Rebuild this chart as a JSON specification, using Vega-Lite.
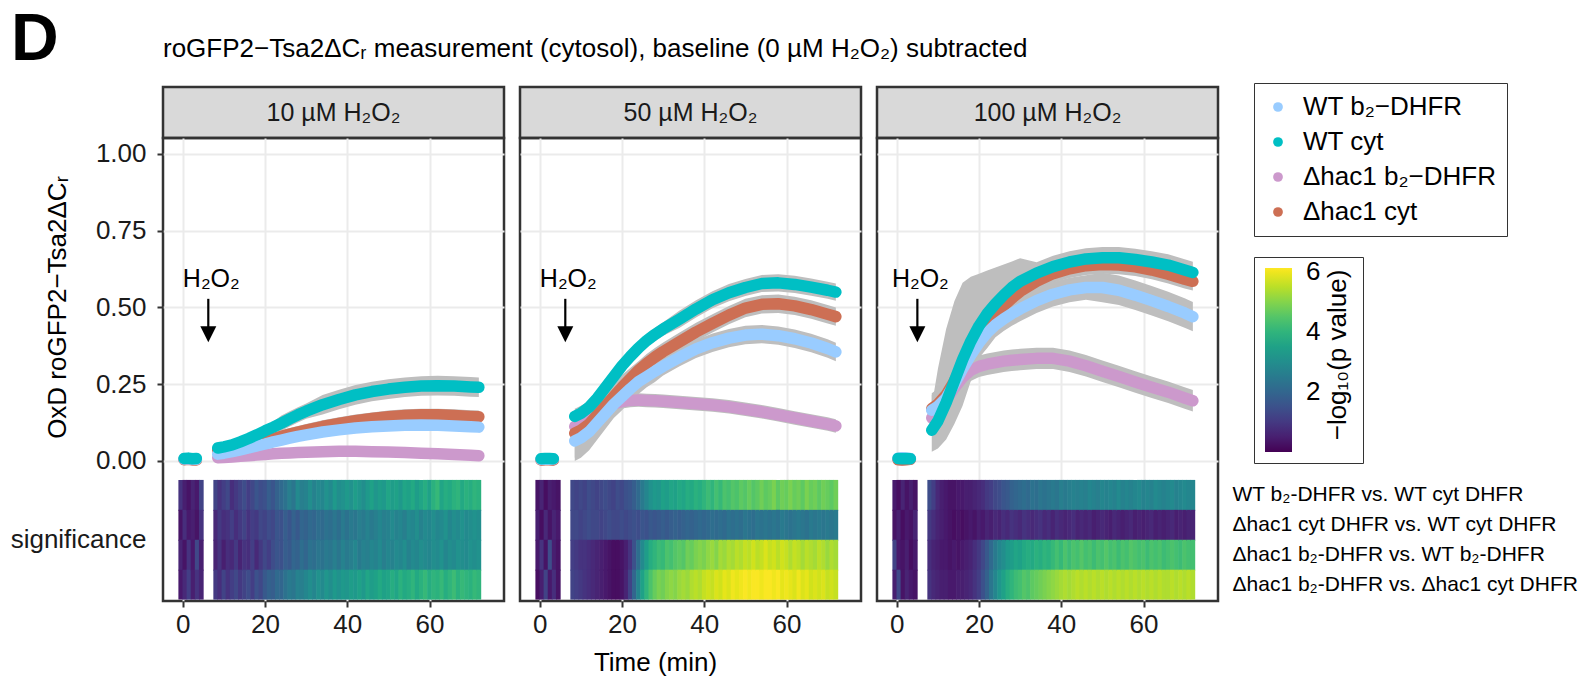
{
"$schema": "https://vega.github.io/schema/vega-lite/v6.json",
"padding": {"left": 8, "top": 6, "right": 4, "bottom": 2},
"background": "white",
"config": {
 "font": "Liberation Sans",
 "view": {"stroke": null},
 "axis": {"domain": false, "grid": true, "gridColor": "#EBEBEB", "gridWidth": 2, "tickColor": "#333333", "tickWidth": 2, "tickSize": 6, "labelFontSize": 26, "labelColor": "#1a1a1a", "titleFontSize": 26, "titleFontWeight": "normal", "titleColor": "#000000", "labelPadding": 4},
 "title": {"color": "#000000"},
 "legend": {"labelColor": "#000000", "titleColor": "#000000"}
},
"title": {"text": "D", "fontSize": 66, "fontWeight": "bold", "anchor": "start", "frame": "group", "dx": -152, "offset": -90, "baseline": "alphabetic"},
"bounds": "flush",
"datasets": {
"strip": [{"c":"10","label":"10 µM H₂O₂"},{"c":"50","label":"50 µM H₂O₂"},{"c":"100","label":"100 µM H₂O₂"}],
"ann": [{"c":"10","t":6.2},{"c":"50","t":6.2},{"c":"100","t":5.0}],
"rows": [{"key":"p1","ylo":-0.1625,"yhi":-0.062},{"key":"p2","ylo":-0.26,"yhi":-0.1595},{"key":"p3","ylo":-0.3575,"yhi":-0.257},{"key":"p4","ylo":-0.452,"yhi":-0.3545}],
"base": [
{"c":"10","g":"a","t":0.3,"y":0.005},{"c":"10","g":"a","t":1.3,"y":0.006},{"c":"10","g":"a","t":2.3,"y":0.004},{"c":"10","g":"a","t":3.3,"y":0.005},
{"c":"10","g":"b","t":0.3,"y":0.004},{"c":"10","g":"b","t":1.3,"y":0.005},{"c":"10","g":"b","t":2.3,"y":0.004},{"c":"10","g":"b","t":3.3,"y":0.003},
{"c":"10","g":"c","t":0.3,"y":0.006},{"c":"10","g":"c","t":1.3,"y":0.007},{"c":"10","g":"c","t":2.3,"y":0.006},{"c":"10","g":"c","t":3.3,"y":0.005},
{"c":"10","g":"d","t":0.3,"y":0.008},{"c":"10","g":"d","t":1.3,"y":0.009},{"c":"10","g":"d","t":2.3,"y":0.007},{"c":"10","g":"d","t":3.3,"y":0.008},
{"c":"50","g":"a","t":0.3,"y":0.004},{"c":"50","g":"a","t":1.3,"y":0.005},{"c":"50","g":"a","t":2.3,"y":0.005},{"c":"50","g":"a","t":3.3,"y":0.004},
{"c":"50","g":"b","t":0.3,"y":0.003},{"c":"50","g":"b","t":1.3,"y":0.004},{"c":"50","g":"b","t":2.3,"y":0.004},{"c":"50","g":"b","t":3.3,"y":0.003},
{"c":"50","g":"c","t":0.3,"y":0.005},{"c":"50","g":"c","t":1.3,"y":0.006},{"c":"50","g":"c","t":2.3,"y":0.005},{"c":"50","g":"c","t":3.3,"y":0.006},
{"c":"50","g":"d","t":0.3,"y":0.007},{"c":"50","g":"d","t":1.3,"y":0.008},{"c":"50","g":"d","t":2.3,"y":0.008},{"c":"50","g":"d","t":3.3,"y":0.007},
{"c":"100","g":"a","t":0.3,"y":0.005},{"c":"100","g":"a","t":1.3,"y":0.004},{"c":"100","g":"a","t":2.3,"y":0.005},{"c":"100","g":"a","t":3.3,"y":0.006},
{"c":"100","g":"b","t":0.3,"y":0.004},{"c":"100","g":"b","t":1.3,"y":0.003},{"c":"100","g":"b","t":2.3,"y":0.004},{"c":"100","g":"b","t":3.3,"y":0.005},
{"c":"100","g":"c","t":0.3,"y":0.009},{"c":"100","g":"c","t":1.3,"y":0.01},{"c":"100","g":"c","t":2.3,"y":0.009},{"c":"100","g":"c","t":3.3,"y":0.008},
{"c":"100","g":"d","t":0.3,"y":0.008},{"c":"100","g":"d","t":1.3,"y":0.007},{"c":"100","g":"d","t":2.3,"y":0.008},{"c":"100","g":"d","t":3.3,"y":0.007}
],
"ts": [
{"c":"10","g":"a","t":8.5,"y":0.01,"lo":-0.002,"hi":0.022},{"c":"10","g":"a","t":10,"y":0.011,"lo":-0.001,"hi":0.023},{"c":"10","g":"a","t":12,"y":0.013,"lo":0.001,"hi":0.025},{"c":"10","g":"a","t":14,"y":0.015,"lo":0.003,"hi":0.027},{"c":"10","g":"a","t":16,"y":0.017,"lo":0.005,"hi":0.029},{"c":"10","g":"a","t":18,"y":0.019,"lo":0.007,"hi":0.031},{"c":"10","g":"a","t":20,"y":0.021,"lo":0.009,"hi":0.033},{"c":"10","g":"a","t":22,"y":0.023,"lo":0.011,"hi":0.035},{"c":"10","g":"a","t":24,"y":0.025,"lo":0.013,"hi":0.037},{"c":"10","g":"a","t":26,"y":0.026,"lo":0.014,"hi":0.038},{"c":"10","g":"a","t":28,"y":0.027,"lo":0.015,"hi":0.039},{"c":"10","g":"a","t":30,"y":0.028,"lo":0.016,"hi":0.04},{"c":"10","g":"a","t":34,"y":0.03,"lo":0.018,"hi":0.042},{"c":"10","g":"a","t":38,"y":0.031,"lo":0.019,"hi":0.043},{"c":"10","g":"a","t":42,"y":0.031,"lo":0.019,"hi":0.043},{"c":"10","g":"a","t":46,"y":0.03,"lo":0.018,"hi":0.042},{"c":"10","g":"a","t":50,"y":0.029,"lo":0.017,"hi":0.041},{"c":"10","g":"a","t":54,"y":0.027,"lo":0.015,"hi":0.039},{"c":"10","g":"a","t":58,"y":0.025,"lo":0.013,"hi":0.037},{"c":"10","g":"a","t":62,"y":0.023,"lo":0.011,"hi":0.035},{"c":"10","g":"a","t":66,"y":0.021,"lo":0.009,"hi":0.033},{"c":"10","g":"a","t":70,"y":0.018,"lo":0.006,"hi":0.03},{"c":"10","g":"a","t":72,"y":0.017,"lo":0.005,"hi":0.029},
{"c":"10","g":"b","t":8.5,"y":0.035,"lo":0.02,"hi":0.05},{"c":"10","g":"b","t":10,"y":0.038,"lo":0.023,"hi":0.053},{"c":"10","g":"b","t":12,"y":0.042,"lo":0.027,"hi":0.057},{"c":"10","g":"b","t":14,"y":0.048,"lo":0.033,"hi":0.063},{"c":"10","g":"b","t":16,"y":0.054,"lo":0.039,"hi":0.069},{"c":"10","g":"b","t":18,"y":0.06,"lo":0.045,"hi":0.075},{"c":"10","g":"b","t":20,"y":0.066,"lo":0.051,"hi":0.081},{"c":"10","g":"b","t":22,"y":0.073,"lo":0.058,"hi":0.088},{"c":"10","g":"b","t":24,"y":0.08,"lo":0.06,"hi":0.1},{"c":"10","g":"b","t":26,"y":0.087,"lo":0.067,"hi":0.107},{"c":"10","g":"b","t":28,"y":0.094,"lo":0.074,"hi":0.114},{"c":"10","g":"b","t":30,"y":0.1,"lo":0.08,"hi":0.12},{"c":"10","g":"b","t":34,"y":0.112,"lo":0.092,"hi":0.132},{"c":"10","g":"b","t":38,"y":0.122,"lo":0.102,"hi":0.142},{"c":"10","g":"b","t":42,"y":0.131,"lo":0.111,"hi":0.151},{"c":"10","g":"b","t":46,"y":0.138,"lo":0.118,"hi":0.158},{"c":"10","g":"b","t":50,"y":0.144,"lo":0.124,"hi":0.164},{"c":"10","g":"b","t":54,"y":0.148,"lo":0.128,"hi":0.168},{"c":"10","g":"b","t":58,"y":0.15,"lo":0.13,"hi":0.17},{"c":"10","g":"b","t":62,"y":0.15,"lo":0.13,"hi":0.17},{"c":"10","g":"b","t":66,"y":0.148,"lo":0.128,"hi":0.168},{"c":"10","g":"b","t":70,"y":0.145,"lo":0.125,"hi":0.165},{"c":"10","g":"b","t":72,"y":0.144,"lo":0.124,"hi":0.164},
{"c":"10","g":"c","t":8.5,"y":0.022,"lo":0.01,"hi":0.034},{"c":"10","g":"c","t":10,"y":0.025,"lo":0.013,"hi":0.037},{"c":"10","g":"c","t":12,"y":0.03,"lo":0.018,"hi":0.042},{"c":"10","g":"c","t":14,"y":0.036,"lo":0.024,"hi":0.048},{"c":"10","g":"c","t":16,"y":0.042,"lo":0.03,"hi":0.054},{"c":"10","g":"c","t":18,"y":0.049,"lo":0.037,"hi":0.061},{"c":"10","g":"c","t":20,"y":0.055,"lo":0.043,"hi":0.067},{"c":"10","g":"c","t":22,"y":0.062,"lo":0.05,"hi":0.074},{"c":"10","g":"c","t":24,"y":0.068,"lo":0.056,"hi":0.08},{"c":"10","g":"c","t":26,"y":0.074,"lo":0.062,"hi":0.086},{"c":"10","g":"c","t":28,"y":0.08,"lo":0.068,"hi":0.092},{"c":"10","g":"c","t":30,"y":0.085,"lo":0.073,"hi":0.097},{"c":"10","g":"c","t":34,"y":0.094,"lo":0.082,"hi":0.106},{"c":"10","g":"c","t":38,"y":0.101,"lo":0.089,"hi":0.113},{"c":"10","g":"c","t":42,"y":0.107,"lo":0.095,"hi":0.119},{"c":"10","g":"c","t":46,"y":0.111,"lo":0.099,"hi":0.123},{"c":"10","g":"c","t":50,"y":0.114,"lo":0.102,"hi":0.126},{"c":"10","g":"c","t":54,"y":0.116,"lo":0.104,"hi":0.128},{"c":"10","g":"c","t":58,"y":0.117,"lo":0.105,"hi":0.129},{"c":"10","g":"c","t":62,"y":0.116,"lo":0.104,"hi":0.128},{"c":"10","g":"c","t":66,"y":0.114,"lo":0.102,"hi":0.126},{"c":"10","g":"c","t":70,"y":0.111,"lo":0.099,"hi":0.123},{"c":"10","g":"c","t":72,"y":0.11,"lo":0.098,"hi":0.122},
{"c":"10","g":"d","t":8.5,"y":0.042,"lo":0.03,"hi":0.054},{"c":"10","g":"d","t":10,"y":0.046,"lo":0.034,"hi":0.058},{"c":"10","g":"d","t":12,"y":0.052,"lo":0.04,"hi":0.064},{"c":"10","g":"d","t":14,"y":0.062,"lo":0.05,"hi":0.074},{"c":"10","g":"d","t":16,"y":0.073,"lo":0.055,"hi":0.091},{"c":"10","g":"d","t":18,"y":0.085,"lo":0.067,"hi":0.103},{"c":"10","g":"d","t":20,"y":0.098,"lo":0.08,"hi":0.116},{"c":"10","g":"d","t":22,"y":0.11,"lo":0.092,"hi":0.128},{"c":"10","g":"d","t":24,"y":0.123,"lo":0.098,"hi":0.148},{"c":"10","g":"d","t":26,"y":0.137,"lo":0.112,"hi":0.162},{"c":"10","g":"d","t":28,"y":0.15,"lo":0.125,"hi":0.175},{"c":"10","g":"d","t":30,"y":0.162,"lo":0.137,"hi":0.187},{"c":"10","g":"d","t":34,"y":0.183,"lo":0.151,"hi":0.215},{"c":"10","g":"d","t":38,"y":0.2,"lo":0.168,"hi":0.232},{"c":"10","g":"d","t":42,"y":0.215,"lo":0.183,"hi":0.247},{"c":"10","g":"d","t":46,"y":0.226,"lo":0.194,"hi":0.258},{"c":"10","g":"d","t":50,"y":0.234,"lo":0.202,"hi":0.266},{"c":"10","g":"d","t":54,"y":0.24,"lo":0.208,"hi":0.272},{"c":"10","g":"d","t":58,"y":0.244,"lo":0.212,"hi":0.276},{"c":"10","g":"d","t":62,"y":0.245,"lo":0.213,"hi":0.277},{"c":"10","g":"d","t":66,"y":0.244,"lo":0.212,"hi":0.276},{"c":"10","g":"d","t":70,"y":0.241,"lo":0.209,"hi":0.273},{"c":"10","g":"d","t":72,"y":0.24,"lo":0.208,"hi":0.272},
{"c":"50","g":"a","t":8.5,"y":0.112,"lo":0.09,"hi":0.134},{"c":"50","g":"a","t":10,"y":0.122,"lo":0.1,"hi":0.144},{"c":"50","g":"a","t":12,"y":0.14,"lo":0.118,"hi":0.162},{"c":"50","g":"a","t":14,"y":0.158,"lo":0.136,"hi":0.18},{"c":"50","g":"a","t":16,"y":0.175,"lo":0.153,"hi":0.197},{"c":"50","g":"a","t":18,"y":0.186,"lo":0.164,"hi":0.208},{"c":"50","g":"a","t":20,"y":0.193,"lo":0.171,"hi":0.215},{"c":"50","g":"a","t":22,"y":0.197,"lo":0.175,"hi":0.219},{"c":"50","g":"a","t":24,"y":0.198,"lo":0.176,"hi":0.22},{"c":"50","g":"a","t":26,"y":0.197,"lo":0.175,"hi":0.219},{"c":"50","g":"a","t":28,"y":0.196,"lo":0.174,"hi":0.218},{"c":"50","g":"a","t":30,"y":0.194,"lo":0.172,"hi":0.216},{"c":"50","g":"a","t":34,"y":0.19,"lo":0.168,"hi":0.212},{"c":"50","g":"a","t":38,"y":0.186,"lo":0.164,"hi":0.208},{"c":"50","g":"a","t":42,"y":0.182,"lo":0.16,"hi":0.204},{"c":"50","g":"a","t":46,"y":0.176,"lo":0.154,"hi":0.198},{"c":"50","g":"a","t":50,"y":0.168,"lo":0.146,"hi":0.19},{"c":"50","g":"a","t":54,"y":0.16,"lo":0.138,"hi":0.182},{"c":"50","g":"a","t":58,"y":0.15,"lo":0.128,"hi":0.172},{"c":"50","g":"a","t":62,"y":0.14,"lo":0.118,"hi":0.162},{"c":"50","g":"a","t":66,"y":0.13,"lo":0.108,"hi":0.152},{"c":"50","g":"a","t":70,"y":0.12,"lo":0.098,"hi":0.142},{"c":"50","g":"a","t":72,"y":0.114,"lo":0.092,"hi":0.136},
{"c":"50","g":"b","t":8.5,"y":0.09,"lo":0.01,"hi":0.17},{"c":"50","g":"b","t":10,"y":0.1,"lo":0.02,"hi":0.18},{"c":"50","g":"b","t":12,"y":0.12,"lo":0.045,"hi":0.195},{"c":"50","g":"b","t":14,"y":0.15,"lo":0.085,"hi":0.215},{"c":"50","g":"b","t":16,"y":0.18,"lo":0.125,"hi":0.235},{"c":"50","g":"b","t":18,"y":0.21,"lo":0.165,"hi":0.255},{"c":"50","g":"b","t":20,"y":0.24,"lo":0.2,"hi":0.28},{"c":"50","g":"b","t":22,"y":0.268,"lo":0.233,"hi":0.303},{"c":"50","g":"b","t":24,"y":0.295,"lo":0.265,"hi":0.325},{"c":"50","g":"b","t":26,"y":0.318,"lo":0.288,"hi":0.348},{"c":"50","g":"b","t":28,"y":0.338,"lo":0.308,"hi":0.368},{"c":"50","g":"b","t":30,"y":0.356,"lo":0.326,"hi":0.386},{"c":"50","g":"b","t":34,"y":0.388,"lo":0.358,"hi":0.418},{"c":"50","g":"b","t":38,"y":0.42,"lo":0.39,"hi":0.45},{"c":"50","g":"b","t":42,"y":0.448,"lo":0.418,"hi":0.478},{"c":"50","g":"b","t":46,"y":0.475,"lo":0.445,"hi":0.505},{"c":"50","g":"b","t":50,"y":0.498,"lo":0.468,"hi":0.528},{"c":"50","g":"b","t":54,"y":0.51,"lo":0.48,"hi":0.54},{"c":"50","g":"b","t":58,"y":0.512,"lo":0.482,"hi":0.542},{"c":"50","g":"b","t":62,"y":0.505,"lo":0.475,"hi":0.535},{"c":"50","g":"b","t":66,"y":0.493,"lo":0.463,"hi":0.523},{"c":"50","g":"b","t":70,"y":0.478,"lo":0.448,"hi":0.508},{"c":"50","g":"b","t":72,"y":0.47,"lo":0.44,"hi":0.5},
{"c":"50","g":"c","t":8.5,"y":0.065,"lo":0.0,"hi":0.13},{"c":"50","g":"c","t":10,"y":0.075,"lo":0.01,"hi":0.14},{"c":"50","g":"c","t":12,"y":0.095,"lo":0.035,"hi":0.155},{"c":"50","g":"c","t":14,"y":0.125,"lo":0.07,"hi":0.18},{"c":"50","g":"c","t":16,"y":0.155,"lo":0.105,"hi":0.205},{"c":"50","g":"c","t":18,"y":0.185,"lo":0.14,"hi":0.23},{"c":"50","g":"c","t":20,"y":0.21,"lo":0.165,"hi":0.255},{"c":"50","g":"c","t":22,"y":0.235,"lo":0.195,"hi":0.275},{"c":"50","g":"c","t":24,"y":0.258,"lo":0.218,"hi":0.298},{"c":"50","g":"c","t":26,"y":0.275,"lo":0.24,"hi":0.31},{"c":"50","g":"c","t":28,"y":0.292,"lo":0.257,"hi":0.327},{"c":"50","g":"c","t":30,"y":0.308,"lo":0.278,"hi":0.338},{"c":"50","g":"c","t":34,"y":0.338,"lo":0.308,"hi":0.368},{"c":"50","g":"c","t":38,"y":0.365,"lo":0.335,"hi":0.395},{"c":"50","g":"c","t":42,"y":0.385,"lo":0.355,"hi":0.415},{"c":"50","g":"c","t":46,"y":0.4,"lo":0.37,"hi":0.43},{"c":"50","g":"c","t":50,"y":0.41,"lo":0.38,"hi":0.44},{"c":"50","g":"c","t":54,"y":0.413,"lo":0.383,"hi":0.443},{"c":"50","g":"c","t":58,"y":0.408,"lo":0.378,"hi":0.438},{"c":"50","g":"c","t":62,"y":0.398,"lo":0.368,"hi":0.428},{"c":"50","g":"c","t":66,"y":0.384,"lo":0.354,"hi":0.414},{"c":"50","g":"c","t":70,"y":0.366,"lo":0.336,"hi":0.396},{"c":"50","g":"c","t":72,"y":0.355,"lo":0.325,"hi":0.385},
{"c":"50","g":"d","t":8.5,"y":0.145,"lo":0.13,"hi":0.16},{"c":"50","g":"d","t":10,"y":0.155,"lo":0.14,"hi":0.17},{"c":"50","g":"d","t":12,"y":0.175,"lo":0.16,"hi":0.19},{"c":"50","g":"d","t":14,"y":0.205,"lo":0.19,"hi":0.22},{"c":"50","g":"d","t":16,"y":0.24,"lo":0.225,"hi":0.255},{"c":"50","g":"d","t":18,"y":0.275,"lo":0.26,"hi":0.29},{"c":"50","g":"d","t":20,"y":0.31,"lo":0.288,"hi":0.332},{"c":"50","g":"d","t":22,"y":0.34,"lo":0.318,"hi":0.362},{"c":"50","g":"d","t":24,"y":0.368,"lo":0.346,"hi":0.39},{"c":"50","g":"d","t":26,"y":0.392,"lo":0.37,"hi":0.414},{"c":"50","g":"d","t":28,"y":0.412,"lo":0.39,"hi":0.434},{"c":"50","g":"d","t":30,"y":0.43,"lo":0.408,"hi":0.452},{"c":"50","g":"d","t":34,"y":0.462,"lo":0.434,"hi":0.49},{"c":"50","g":"d","t":38,"y":0.495,"lo":0.467,"hi":0.523},{"c":"50","g":"d","t":42,"y":0.525,"lo":0.497,"hi":0.553},{"c":"50","g":"d","t":46,"y":0.548,"lo":0.52,"hi":0.576},{"c":"50","g":"d","t":50,"y":0.565,"lo":0.537,"hi":0.593},{"c":"50","g":"d","t":54,"y":0.578,"lo":0.55,"hi":0.606},{"c":"50","g":"d","t":58,"y":0.58,"lo":0.552,"hi":0.608},{"c":"50","g":"d","t":62,"y":0.575,"lo":0.547,"hi":0.603},{"c":"50","g":"d","t":66,"y":0.566,"lo":0.538,"hi":0.594},{"c":"50","g":"d","t":70,"y":0.556,"lo":0.528,"hi":0.584},{"c":"50","g":"d","t":72,"y":0.55,"lo":0.522,"hi":0.578},
{"c":"100","g":"a","t":8.5,"y":0.14,"lo":0.105,"hi":0.175},{"c":"100","g":"a","t":10,"y":0.162,"lo":0.127,"hi":0.197},{"c":"100","g":"a","t":12,"y":0.198,"lo":0.163,"hi":0.233},{"c":"100","g":"a","t":14,"y":0.238,"lo":0.203,"hi":0.273},{"c":"100","g":"a","t":16,"y":0.272,"lo":0.237,"hi":0.307},{"c":"100","g":"a","t":18,"y":0.295,"lo":0.26,"hi":0.33},{"c":"100","g":"a","t":20,"y":0.308,"lo":0.273,"hi":0.343},{"c":"100","g":"a","t":22,"y":0.315,"lo":0.28,"hi":0.35},{"c":"100","g":"a","t":24,"y":0.32,"lo":0.285,"hi":0.355},{"c":"100","g":"a","t":26,"y":0.325,"lo":0.29,"hi":0.36},{"c":"100","g":"a","t":28,"y":0.328,"lo":0.293,"hi":0.363},{"c":"100","g":"a","t":30,"y":0.33,"lo":0.295,"hi":0.365},{"c":"100","g":"a","t":34,"y":0.334,"lo":0.299,"hi":0.369},{"c":"100","g":"a","t":38,"y":0.334,"lo":0.299,"hi":0.369},{"c":"100","g":"a","t":42,"y":0.325,"lo":0.29,"hi":0.36},{"c":"100","g":"a","t":46,"y":0.31,"lo":0.275,"hi":0.345},{"c":"100","g":"a","t":50,"y":0.292,"lo":0.257,"hi":0.327},{"c":"100","g":"a","t":54,"y":0.275,"lo":0.24,"hi":0.31},{"c":"100","g":"a","t":58,"y":0.257,"lo":0.222,"hi":0.292},{"c":"100","g":"a","t":62,"y":0.24,"lo":0.205,"hi":0.275},{"c":"100","g":"a","t":66,"y":0.224,"lo":0.189,"hi":0.259},{"c":"100","g":"a","t":70,"y":0.205,"lo":0.17,"hi":0.24},{"c":"100","g":"a","t":72,"y":0.196,"lo":0.161,"hi":0.231},
{"c":"100","g":"b","t":8.5,"y":0.17,"lo":0.12,"hi":0.22},{"c":"100","g":"b","t":10,"y":0.185,"lo":0.135,"hi":0.235},{"c":"100","g":"b","t":12,"y":0.215,"lo":0.165,"hi":0.265},{"c":"100","g":"b","t":14,"y":0.26,"lo":0.21,"hi":0.31},{"c":"100","g":"b","t":16,"y":0.31,"lo":0.26,"hi":0.36},{"c":"100","g":"b","t":18,"y":0.36,"lo":0.31,"hi":0.41},{"c":"100","g":"b","t":20,"y":0.405,"lo":0.355,"hi":0.455},{"c":"100","g":"b","t":22,"y":0.445,"lo":0.395,"hi":0.495},{"c":"100","g":"b","t":24,"y":0.478,"lo":0.448,"hi":0.508},{"c":"100","g":"b","t":26,"y":0.505,"lo":0.475,"hi":0.535},{"c":"100","g":"b","t":28,"y":0.53,"lo":0.5,"hi":0.56},{"c":"100","g":"b","t":30,"y":0.552,"lo":0.522,"hi":0.582},{"c":"100","g":"b","t":34,"y":0.585,"lo":0.555,"hi":0.615},{"c":"100","g":"b","t":38,"y":0.61,"lo":0.58,"hi":0.64},{"c":"100","g":"b","t":42,"y":0.626,"lo":0.596,"hi":0.656},{"c":"100","g":"b","t":46,"y":0.636,"lo":0.606,"hi":0.666},{"c":"100","g":"b","t":50,"y":0.64,"lo":0.61,"hi":0.67},{"c":"100","g":"b","t":54,"y":0.638,"lo":0.608,"hi":0.668},{"c":"100","g":"b","t":58,"y":0.632,"lo":0.602,"hi":0.662},{"c":"100","g":"b","t":62,"y":0.622,"lo":0.592,"hi":0.652},{"c":"100","g":"b","t":66,"y":0.608,"lo":0.578,"hi":0.638},{"c":"100","g":"b","t":70,"y":0.592,"lo":0.562,"hi":0.622},{"c":"100","g":"b","t":72,"y":0.585,"lo":0.555,"hi":0.615},
{"c":"100","g":"c","t":8.5,"y":0.165,"lo":0.115,"hi":0.215},{"c":"100","g":"c","t":10,"y":0.178,"lo":0.128,"hi":0.228},{"c":"100","g":"c","t":12,"y":0.205,"lo":0.155,"hi":0.255},{"c":"100","g":"c","t":14,"y":0.25,"lo":0.2,"hi":0.3},{"c":"100","g":"c","t":16,"y":0.3,"lo":0.25,"hi":0.35},{"c":"100","g":"c","t":18,"y":0.345,"lo":0.295,"hi":0.395},{"c":"100","g":"c","t":20,"y":0.385,"lo":0.335,"hi":0.435},{"c":"100","g":"c","t":22,"y":0.418,"lo":0.368,"hi":0.468},{"c":"100","g":"c","t":24,"y":0.443,"lo":0.403,"hi":0.483},{"c":"100","g":"c","t":26,"y":0.463,"lo":0.423,"hi":0.503},{"c":"100","g":"c","t":28,"y":0.48,"lo":0.44,"hi":0.52},{"c":"100","g":"c","t":30,"y":0.495,"lo":0.455,"hi":0.535},{"c":"100","g":"c","t":34,"y":0.522,"lo":0.482,"hi":0.562},{"c":"100","g":"c","t":38,"y":0.543,"lo":0.503,"hi":0.583},{"c":"100","g":"c","t":42,"y":0.557,"lo":0.517,"hi":0.597},{"c":"100","g":"c","t":46,"y":0.565,"lo":0.525,"hi":0.605},{"c":"100","g":"c","t":50,"y":0.565,"lo":0.517,"hi":0.613},{"c":"100","g":"c","t":54,"y":0.556,"lo":0.508,"hi":0.604},{"c":"100","g":"c","t":58,"y":0.54,"lo":0.492,"hi":0.588},{"c":"100","g":"c","t":62,"y":0.522,"lo":0.474,"hi":0.57},{"c":"100","g":"c","t":66,"y":0.503,"lo":0.455,"hi":0.551},{"c":"100","g":"c","t":70,"y":0.482,"lo":0.434,"hi":0.53},{"c":"100","g":"c","t":72,"y":0.47,"lo":0.422,"hi":0.518},
{"c":"100","g":"d","t":8.5,"y":0.1,"lo":0.03,"hi":0.18},{"c":"100","g":"d","t":10,"y":0.13,"lo":0.04,"hi":0.3},{"c":"100","g":"d","t":12,"y":0.19,"lo":0.07,"hi":0.43},{"c":"100","g":"d","t":14,"y":0.26,"lo":0.12,"hi":0.52},{"c":"100","g":"d","t":16,"y":0.33,"lo":0.18,"hi":0.58},{"c":"100","g":"d","t":18,"y":0.39,"lo":0.26,"hi":0.6},{"c":"100","g":"d","t":20,"y":0.44,"lo":0.33,"hi":0.61},{"c":"100","g":"d","t":22,"y":0.48,"lo":0.4,"hi":0.62},{"c":"100","g":"d","t":24,"y":0.512,"lo":0.45,"hi":0.63},{"c":"100","g":"d","t":26,"y":0.54,"lo":0.49,"hi":0.64},{"c":"100","g":"d","t":28,"y":0.565,"lo":0.52,"hi":0.65},{"c":"100","g":"d","t":30,"y":0.585,"lo":0.55,"hi":0.66},{"c":"100","g":"d","t":34,"y":0.612,"lo":0.577,"hi":0.647},{"c":"100","g":"d","t":38,"y":0.633,"lo":0.598,"hi":0.668},{"c":"100","g":"d","t":42,"y":0.648,"lo":0.613,"hi":0.683},{"c":"100","g":"d","t":46,"y":0.658,"lo":0.623,"hi":0.693},{"c":"100","g":"d","t":50,"y":0.662,"lo":0.627,"hi":0.697},{"c":"100","g":"d","t":54,"y":0.662,"lo":0.627,"hi":0.697},{"c":"100","g":"d","t":58,"y":0.656,"lo":0.621,"hi":0.691},{"c":"100","g":"d","t":62,"y":0.648,"lo":0.613,"hi":0.683},{"c":"100","g":"d","t":66,"y":0.638,"lo":0.603,"hi":0.673},{"c":"100","g":"d","t":70,"y":0.622,"lo":0.587,"hi":0.657},{"c":"100","g":"d","t":72,"y":0.614,"lo":0.579,"hi":0.649}
],
"hm": [
{"c":"10","t":-0.5,"p1":0.9,"p2":0.3,"p3":0.6,"p4":0.4},{"c":"10","t":0.5,"p1":0.5,"p2":0.8,"p3":0.3,"p4":0.7},{"c":"10","t":1.5,"p1":0.3,"p2":0.4,"p3":0.9,"p4":1.1},{"c":"10","t":2.5,"p1":0.6,"p2":0.5,"p3":0.4,"p4":0.5},{"c":"10","t":3.5,"p1":0.4,"p2":0.3,"p3":1.3,"p4":0.9},{"c":"10","t":4.5,"p1":1.2,"p2":0.9,"p3":0.5,"p4":0.6},
{"c":"10","t":8,"p1":1.2,"p2":0.7,"p3":0.6,"p4":1.0},{"c":"10","t":9,"p1":0.9,"p2":1.0,"p3":0.9,"p4":0.8},{"c":"10","t":10,"p1":1.1,"p2":0.8,"p3":0.5,"p4":1.2},{"c":"10","t":11,"p1":1.3,"p2":0.9,"p3":0.8,"p4":0.9},{"c":"10","t":12,"p1":0.8,"p2":1.1,"p3":0.7,"p4":1.1},{"c":"10","t":13,"p1":1.0,"p2":0.8,"p3":1.0,"p4":1.3},{"c":"10","t":14,"p1":1.2,"p2":1.0,"p3":0.6,"p4":1.0},{"c":"10","t":15,"p1":1.4,"p2":1.2,"p3":0.9,"p4":1.2},{"c":"10","t":16,"p1":1.1,"p2":0.9,"p3":0.8,"p4":1.4},{"c":"10","t":17,"p1":1.3,"p2":1.1,"p3":1.1,"p4":1.1},{"c":"10","t":18,"p1":1.6,"p2":1.0,"p3":0.7,"p4":1.5},{"c":"10","t":19,"p1":1.4,"p2":1.3,"p3":1.0,"p4":1.3},{"c":"10","t":20,"p1":1.5,"p2":1.2,"p3":1.3,"p4":1.7},{"c":"10","t":21,"p1":1.8,"p2":1.4,"p3":1.1,"p4":1.9},{"c":"10","t":22,"p1":1.6,"p2":1.3,"p3":1.4,"p4":1.8},{"c":"10","t":23,"p1":1.9,"p2":1.6,"p3":1.6,"p4":2.1},{"c":"10","t":24,"p1":2.1,"p2":1.5,"p3":1.5,"p4":2.0},{"c":"10","t":25,"p1":2.3,"p2":1.8,"p3":1.8,"p4":2.3},{"c":"10","t":26,"p1":2.6,"p2":1.6,"p3":1.7,"p4":2.5},{"c":"10","t":27,"p1":2.4,"p2":1.9,"p3":2.0,"p4":2.4},{"c":"10","t":28,"p1":2.9,"p2":1.7,"p3":1.9,"p4":2.7},{"c":"10","t":29,"p1":2.6,"p2":2.0,"p3":2.2,"p4":2.6},{"c":"10","t":30,"p1":2.7,"p2":1.9,"p3":2.0,"p4":2.8},{"c":"10","t":31,"p1":3.0,"p2":2.1,"p3":2.3,"p4":3.0},{"c":"10","t":32,"p1":2.7,"p2":2.0,"p3":2.2,"p4":2.8},{"c":"10","t":33,"p1":2.9,"p2":2.2,"p3":2.4,"p4":3.1},{"c":"10","t":34,"p1":2.8,"p2":2.1,"p3":2.3,"p4":2.9},{"c":"10","t":35,"p1":3.1,"p2":2.3,"p3":2.5,"p4":3.2},{"c":"10","t":36,"p1":2.9,"p2":2.2,"p3":2.4,"p4":3.0},{"c":"10","t":37,"p1":3.3,"p2":2.4,"p3":2.6,"p4":3.3},{"c":"10","t":38,"p1":3.0,"p2":2.2,"p3":2.4,"p4":3.1},{"c":"10","t":39,"p1":3.1,"p2":2.5,"p3":2.7,"p4":3.3},{"c":"10","t":40,"p1":3.3,"p2":2.3,"p3":2.5,"p4":3.2},{"c":"10","t":41,"p1":3.1,"p2":2.5,"p3":2.6,"p4":3.4},{"c":"10","t":42,"p1":3.4,"p2":2.4,"p3":2.8,"p4":3.3},{"c":"10","t":43,"p1":3.2,"p2":2.6,"p3":2.5,"p4":3.5},{"c":"10","t":44,"p1":3.0,"p2":2.5,"p3":2.7,"p4":3.3},{"c":"10","t":45,"p1":3.3,"p2":2.7,"p3":2.6,"p4":3.6},{"c":"10","t":46,"p1":3.5,"p2":2.5,"p3":2.8,"p4":3.4},{"c":"10","t":47,"p1":3.2,"p2":2.6,"p3":2.7,"p4":3.5},{"c":"10","t":48,"p1":3.4,"p2":2.8,"p3":2.9,"p4":3.7},{"c":"10","t":49,"p1":3.3,"p2":2.6,"p3":2.6,"p4":3.5},{"c":"10","t":50,"p1":3.6,"p2":2.7,"p3":2.8,"p4":3.6},{"c":"10","t":51,"p1":3.4,"p2":2.9,"p3":2.7,"p4":3.8},{"c":"10","t":52,"p1":3.5,"p2":2.7,"p3":2.9,"p4":3.6},{"c":"10","t":53,"p1":3.3,"p2":2.8,"p3":2.8,"p4":3.9},{"c":"10","t":54,"p1":3.6,"p2":2.6,"p3":3.0,"p4":3.7},{"c":"10","t":55,"p1":3.5,"p2":2.9,"p3":2.7,"p4":3.8},{"c":"10","t":56,"p1":3.7,"p2":2.8,"p3":2.9,"p4":4.0},{"c":"10","t":57,"p1":3.4,"p2":3.0,"p3":2.8,"p4":3.7},{"c":"10","t":58,"p1":3.6,"p2":2.7,"p3":3.0,"p4":3.9},{"c":"10","t":59,"p1":3.8,"p2":2.9,"p3":2.9,"p4":4.1},{"c":"10","t":60,"p1":3.5,"p2":2.8,"p3":2.8,"p4":3.8},{"c":"10","t":61,"p1":3.9,"p2":3.0,"p3":3.0,"p4":4.0},{"c":"10","t":62,"p1":4.1,"p2":2.8,"p3":2.9,"p4":3.9},{"c":"10","t":63,"p1":3.6,"p2":2.9,"p3":3.1,"p4":4.1},{"c":"10","t":64,"p1":3.8,"p2":3.1,"p3":2.8,"p4":3.8},{"c":"10","t":65,"p1":3.7,"p2":2.8,"p3":3.0,"p4":4.0},{"c":"10","t":66,"p1":3.9,"p2":3.0,"p3":2.9,"p4":4.2},{"c":"10","t":67,"p1":4.0,"p2":2.9,"p3":3.1,"p4":3.9},{"c":"10","t":68,"p1":3.7,"p2":3.1,"p3":3.0,"p4":4.1},{"c":"10","t":69,"p1":3.9,"p2":2.9,"p3":2.9,"p4":4.0},{"c":"10","t":70,"p1":3.8,"p2":3.0,"p3":3.1,"p4":3.9},{"c":"10","t":71,"p1":4.0,"p2":3.1,"p3":3.0,"p4":4.1},{"c":"10","t":72,"p1":3.9,"p2":3.0,"p3":3.1,"p4":4.0},
{"c":"50","t":-0.5,"p1":0.3,"p2":0.5,"p3":0.4,"p4":0.2},{"c":"50","t":0.5,"p1":0.6,"p2":0.2,"p3":0.9,"p4":0.5},{"c":"50","t":1.5,"p1":0.2,"p2":0.7,"p3":0.3,"p4":1.2},{"c":"50","t":2.5,"p1":0.5,"p2":0.3,"p3":1.4,"p4":0.4},{"c":"50","t":3.5,"p1":0.4,"p2":0.6,"p3":0.5,"p4":0.8},{"c":"50","t":4.5,"p1":0.3,"p2":0.4,"p3":0.3,"p4":0.3},
{"c":"50","t":8,"p1":1.3,"p2":1.3,"p3":1.1,"p4":1.2},{"c":"50","t":9,"p1":1.2,"p2":1.3,"p3":1.0,"p4":1.1},{"c":"50","t":10,"p1":1.3,"p2":1.2,"p3":0.9,"p4":1.0},{"c":"50","t":11,"p1":1.2,"p2":1.3,"p3":0.9,"p4":0.9},{"c":"50","t":12,"p1":1.4,"p2":1.4,"p3":0.8,"p4":0.8},{"c":"50","t":13,"p1":1.3,"p2":1.3,"p3":0.7,"p4":0.7},{"c":"50","t":14,"p1":1.2,"p2":1.3,"p3":0.6,"p4":0.6},{"c":"50","t":15,"p1":1.3,"p2":1.2,"p3":0.5,"p4":0.5},{"c":"50","t":16,"p1":1.4,"p2":1.3,"p3":0.4,"p4":0.4},{"c":"50","t":17,"p1":1.3,"p2":1.4,"p3":0.3,"p4":0.3},{"c":"50","t":18,"p1":1.2,"p2":1.3,"p3":0.2,"p4":0.2},{"c":"50","t":19,"p1":1.4,"p2":1.3,"p3":0.2,"p4":0.2},{"c":"50","t":20,"p1":1.3,"p2":1.4,"p3":0.3,"p4":0.3},{"c":"50","t":21,"p1":1.5,"p2":1.3,"p3":0.5,"p4":0.6},{"c":"50","t":22,"p1":1.6,"p2":1.4,"p3":0.9,"p4":1.2},{"c":"50","t":23,"p1":1.8,"p2":1.5,"p3":1.5,"p4":2.0},{"c":"50","t":24,"p1":2.1,"p2":1.4,"p3":2.2,"p4":2.8},{"c":"50","t":25,"p1":2.5,"p2":1.6,"p3":2.9,"p4":3.5},{"c":"50","t":26,"p1":2.8,"p2":1.5,"p3":3.4,"p4":4.0},{"c":"50","t":27,"p1":3.1,"p2":1.7,"p3":3.8,"p4":4.4},{"c":"50","t":28,"p1":3.3,"p2":1.6,"p3":4.0,"p4":4.7},{"c":"50","t":29,"p1":3.2,"p2":1.7,"p3":4.2,"p4":4.9},{"c":"50","t":30,"p1":3.5,"p2":1.8,"p3":4.1,"p4":4.8},{"c":"50","t":31,"p1":3.4,"p2":1.7,"p3":4.4,"p4":5.0},{"c":"50","t":32,"p1":3.6,"p2":1.8,"p3":4.3,"p4":5.1},{"c":"50","t":33,"p1":3.5,"p2":1.9,"p3":4.5,"p4":5.0},{"c":"50","t":34,"p1":3.7,"p2":1.8,"p3":4.6,"p4":5.2},{"c":"50","t":35,"p1":3.6,"p2":1.9,"p3":4.5,"p4":5.3},{"c":"50","t":36,"p1":3.8,"p2":2.0,"p3":4.8,"p4":5.2},{"c":"50","t":37,"p1":3.7,"p2":1.9,"p3":4.7,"p4":5.4},{"c":"50","t":38,"p1":3.9,"p2":2.0,"p3":4.9,"p4":5.5},{"c":"50","t":39,"p1":3.8,"p2":2.1,"p3":5.0,"p4":5.4},{"c":"50","t":40,"p1":4.0,"p2":2.0,"p3":4.9,"p4":5.6},{"c":"50","t":41,"p1":4.2,"p2":2.1,"p3":5.1,"p4":5.7},{"c":"50","t":42,"p1":4.0,"p2":2.2,"p3":5.2,"p4":5.6},{"c":"50","t":43,"p1":4.3,"p2":2.1,"p3":5.0,"p4":5.8},{"c":"50","t":44,"p1":4.1,"p2":2.2,"p3":5.3,"p4":5.7},{"c":"50","t":45,"p1":4.4,"p2":2.1,"p3":5.2,"p4":5.9},{"c":"50","t":46,"p1":4.3,"p2":2.3,"p3":5.4,"p4":5.8},{"c":"50","t":47,"p1":4.5,"p2":2.2,"p3":5.3,"p4":6.0},{"c":"50","t":48,"p1":4.4,"p2":2.3,"p3":5.5,"p4":5.9},{"c":"50","t":49,"p1":4.6,"p2":2.2,"p3":5.4,"p4":6.0},{"c":"50","t":50,"p1":4.5,"p2":2.4,"p3":5.6,"p4":6.1},{"c":"50","t":51,"p1":4.7,"p2":2.3,"p3":5.5,"p4":6.0},{"c":"50","t":52,"p1":4.5,"p2":2.2,"p3":5.7,"p4":6.1},{"c":"50","t":53,"p1":4.6,"p2":2.4,"p3":5.5,"p4":6.1},{"c":"50","t":54,"p1":4.8,"p2":2.3,"p3":5.6,"p4":6.0},{"c":"50","t":55,"p1":4.6,"p2":2.4,"p3":5.8,"p4":6.1},{"c":"50","t":56,"p1":4.7,"p2":2.3,"p3":5.6,"p4":6.1},{"c":"50","t":57,"p1":4.9,"p2":2.4,"p3":5.7,"p4":6.0},{"c":"50","t":58,"p1":4.6,"p2":2.3,"p3":5.5,"p4":6.1},{"c":"50","t":59,"p1":4.8,"p2":2.5,"p3":5.7,"p4":5.9},{"c":"50","t":60,"p1":4.7,"p2":2.4,"p3":5.6,"p4":6.0},{"c":"50","t":61,"p1":4.9,"p2":2.3,"p3":5.4,"p4":5.9},{"c":"50","t":62,"p1":4.7,"p2":2.4,"p3":5.6,"p4":5.8},{"c":"50","t":63,"p1":4.8,"p2":2.5,"p3":5.5,"p4":6.0},{"c":"50","t":64,"p1":4.6,"p2":2.4,"p3":5.3,"p4":5.8},{"c":"50","t":65,"p1":4.9,"p2":2.3,"p3":5.5,"p4":5.9},{"c":"50","t":66,"p1":4.7,"p2":2.5,"p3":5.4,"p4":5.7},{"c":"50","t":67,"p1":4.8,"p2":2.4,"p3":5.3,"p4":5.8},{"c":"50","t":68,"p1":4.6,"p2":2.5,"p3":5.5,"p4":5.7},{"c":"50","t":69,"p1":4.8,"p2":2.4,"p3":5.4,"p4":5.8},{"c":"50","t":70,"p1":4.7,"p2":2.5,"p3":5.2,"p4":5.6},{"c":"50","t":71,"p1":4.6,"p2":2.4,"p3":5.4,"p4":5.7},{"c":"50","t":72,"p1":4.8,"p2":2.5,"p3":5.3,"p4":5.6},
{"c":"100","t":-0.5,"p1":0.4,"p2":0.3,"p3":1.2,"p4":0.5},{"c":"100","t":0.5,"p1":0.2,"p2":0.5,"p3":0.4,"p4":1.3},{"c":"100","t":1.5,"p1":0.6,"p2":0.2,"p3":0.3,"p4":0.3},{"c":"100","t":2.5,"p1":0.3,"p2":0.4,"p3":0.5,"p4":0.6},{"c":"100","t":3.5,"p1":0.5,"p2":0.3,"p3":0.2,"p4":0.4},{"c":"100","t":4.5,"p1":0.3,"p2":0.6,"p3":0.4,"p4":0.3},
{"c":"100","t":8,"p1":1.4,"p2":1.0,"p3":0.8,"p4":0.9},{"c":"100","t":9,"p1":1.1,"p2":0.8,"p3":0.6,"p4":0.7},{"c":"100","t":10,"p1":0.7,"p2":0.6,"p3":0.5,"p4":0.6},{"c":"100","t":11,"p1":0.5,"p2":0.5,"p3":0.4,"p4":0.5},{"c":"100","t":12,"p1":0.4,"p2":0.4,"p3":0.4,"p4":0.5},{"c":"100","t":13,"p1":0.3,"p2":0.3,"p3":0.3,"p4":0.4},{"c":"100","t":14,"p1":0.3,"p2":0.2,"p3":0.4,"p4":0.4},{"c":"100","t":15,"p1":0.4,"p2":0.3,"p3":0.3,"p4":0.5},{"c":"100","t":16,"p1":0.4,"p2":0.2,"p3":0.4,"p4":0.5},{"c":"100","t":17,"p1":0.5,"p2":0.3,"p3":0.5,"p4":0.6},{"c":"100","t":18,"p1":0.5,"p2":0.4,"p3":0.6,"p4":0.7},{"c":"100","t":19,"p1":0.6,"p2":0.3,"p3":0.8,"p4":0.9},{"c":"100","t":20,"p1":0.7,"p2":0.5,"p3":1.0,"p4":1.1},{"c":"100","t":21,"p1":0.8,"p2":0.4,"p3":1.3,"p4":1.5},{"c":"100","t":22,"p1":1.0,"p2":0.6,"p3":1.7,"p4":1.9},{"c":"100","t":23,"p1":1.1,"p2":0.5,"p3":2.1,"p4":2.4},{"c":"100","t":24,"p1":1.3,"p2":0.7,"p3":2.5,"p4":2.8},{"c":"100","t":25,"p1":1.4,"p2":0.6,"p3":2.8,"p4":3.2},{"c":"100","t":26,"p1":1.6,"p2":0.8,"p3":3.0,"p4":3.5},{"c":"100","t":27,"p1":1.7,"p2":0.7,"p3":3.3,"p4":3.8},{"c":"100","t":28,"p1":1.9,"p2":0.9,"p3":3.4,"p4":4.0},{"c":"100","t":29,"p1":2.0,"p2":0.8,"p3":3.6,"p4":4.2},{"c":"100","t":30,"p1":2.1,"p2":0.7,"p3":3.5,"p4":4.3},{"c":"100","t":31,"p1":2.2,"p2":0.9,"p3":3.7,"p4":4.5},{"c":"100","t":32,"p1":2.1,"p2":0.8,"p3":3.8,"p4":4.4},{"c":"100","t":33,"p1":2.3,"p2":0.7,"p3":3.7,"p4":4.6},{"c":"100","t":34,"p1":2.2,"p2":0.8,"p3":3.9,"p4":4.7},{"c":"100","t":35,"p1":2.4,"p2":0.9,"p3":3.8,"p4":4.8},{"c":"100","t":36,"p1":2.3,"p2":0.7,"p3":4.0,"p4":4.9},{"c":"100","t":37,"p1":2.4,"p2":0.8,"p3":3.9,"p4":5.0},{"c":"100","t":38,"p1":2.5,"p2":0.6,"p3":4.1,"p4":5.1},{"c":"100","t":39,"p1":2.4,"p2":0.8,"p3":4.3,"p4":5.2},{"c":"100","t":40,"p1":2.6,"p2":0.7,"p3":4.1,"p4":5.3},{"c":"100","t":41,"p1":2.5,"p2":0.6,"p3":4.4,"p4":5.4},{"c":"100","t":42,"p1":2.6,"p2":0.7,"p3":4.2,"p4":5.3},{"c":"100","t":43,"p1":2.7,"p2":0.8,"p3":4.4,"p4":5.4},{"c":"100","t":44,"p1":2.6,"p2":0.6,"p3":4.3,"p4":5.5},{"c":"100","t":45,"p1":2.7,"p2":0.7,"p3":4.5,"p4":5.4},{"c":"100","t":46,"p1":2.6,"p2":0.6,"p3":4.3,"p4":5.5},{"c":"100","t":47,"p1":2.8,"p2":0.7,"p3":4.4,"p4":5.4},{"c":"100","t":48,"p1":2.7,"p2":0.5,"p3":4.2,"p4":5.5},{"c":"100","t":49,"p1":2.6,"p2":0.6,"p3":4.4,"p4":5.4},{"c":"100","t":50,"p1":2.8,"p2":0.7,"p3":4.3,"p4":5.5},{"c":"100","t":51,"p1":2.7,"p2":0.6,"p3":4.5,"p4":5.4},{"c":"100","t":52,"p1":2.8,"p2":0.5,"p3":4.3,"p4":5.5},{"c":"100","t":53,"p1":2.7,"p2":0.7,"p3":4.4,"p4":5.4},{"c":"100","t":54,"p1":2.9,"p2":0.6,"p3":4.2,"p4":5.5},{"c":"100","t":55,"p1":2.7,"p2":0.5,"p3":4.4,"p4":5.4},{"c":"100","t":56,"p1":2.8,"p2":0.6,"p3":4.3,"p4":5.5},{"c":"100","t":57,"p1":2.7,"p2":0.7,"p3":4.5,"p4":5.4},{"c":"100","t":58,"p1":2.8,"p2":0.5,"p3":4.4,"p4":5.5},{"c":"100","t":59,"p1":2.9,"p2":0.6,"p3":4.3,"p4":5.4},{"c":"100","t":60,"p1":2.7,"p2":0.5,"p3":4.4,"p4":5.5},{"c":"100","t":61,"p1":2.8,"p2":0.6,"p3":4.2,"p4":5.4},{"c":"100","t":62,"p1":2.7,"p2":0.7,"p3":4.4,"p4":5.5},{"c":"100","t":63,"p1":2.9,"p2":0.5,"p3":4.3,"p4":5.4},{"c":"100","t":64,"p1":2.8,"p2":0.6,"p3":4.4,"p4":5.5},{"c":"100","t":65,"p1":2.7,"p2":0.5,"p3":4.2,"p4":5.4},{"c":"100","t":66,"p1":2.8,"p2":0.6,"p3":4.3,"p4":5.4},{"c":"100","t":67,"p1":2.9,"p2":0.7,"p3":4.4,"p4":5.5},{"c":"100","t":68,"p1":2.7,"p2":0.5,"p3":4.3,"p4":5.4},{"c":"100","t":69,"p1":2.8,"p2":0.6,"p3":4.2,"p4":5.5},{"c":"100","t":70,"p1":2.9,"p2":0.5,"p3":4.4,"p4":5.4},{"c":"100","t":71,"p1":2.8,"p2":0.6,"p3":4.3,"p4":5.5},{"c":"100","t":72,"p1":2.8,"p2":0.6,"p3":4.3,"p4":5.4}
]
},
"vconcat": [{
 "title": {"text": "roGFP2−Tsa2ΔCᵣ measurement (cytosol), baseline (0 µM H₂O₂) subtracted", "fontSize": 26, "fontWeight": "normal", "anchor": "start", "frame": "group", "dx": 0, "offset": 3, "baseline": "alphabetic"},
 "spacing": 12,
 "hconcat": [
 {"bounds": "flush", "spacing": 0, "vconcat": [
  {"width": 341, "height": 51, "view": {"fill": "#D9D9D9", "stroke": "#333333", "strokeWidth": 2.5}, "data": {"name": "strip"}, "transform": [{"filter": "datum.c == '10'"}], "mark": {"type": "text", "fontSize": 25, "color": "#1a1a1a"}, "encoding": {"text": {"field": "label"}}},
  {"width": 341, "height": 463, "view": {"stroke": "#333333", "strokeWidth": 2.5},
   "encoding": {"x": {"field": "t", "type": "quantitative", "scale": {"domain": [-3.6, 76.9], "nice": false, "zero": false}, "axis": {"values": [0, 20, 40, 60], "title": null}}},
   "layer": [
    {"data": {"name": "hm"}, "transform": [{"filter": "datum.c == '10'"}, {"fold": ["p1", "p2", "p3", "p4"], "as": ["key", "pv"]}, {"lookup": "key", "from": {"data": {"name": "rows"}, "key": "key", "fields": ["ylo", "yhi"]}}],
     "mark": {"type": "bar", "orient": "vertical", "size": 4.7},
     "encoding": {
      "y": {"field": "ylo", "type": "quantitative", "scale": {"domain": [-0.4565, 1.052], "nice": false, "zero": false},
        "axis": {"values": [0, 0.25, 0.5, 0.75, 1, -0.257], "labelExpr": "datum.value < -0.1 ? 'significance' : format(datum.value, '.2f')", "labelPadding": 11, "title": "OxD roGFP2−Tsa2ΔCᵣ", "titleX": -93, "titleY": 169,
          "tickColor": {"condition": {"test": "datum.value < -0.1", "value": "transparent"}, "value": "#333333"},
          "gridColor": {"condition": {"test": "datum.value < -0.1", "value": "transparent"}, "value": "#EBEBEB"}}},
      "y2": {"field": "yhi"},
      "fill": {"field": "pv", "type": "quantitative", "scale": {"scheme": "viridis", "domain": [0, 6.13]},
        "legend": {"orient": "none", "legendX": 1091, "legendY": 170, "title": "−log₁₀(p value)", "titleOrient": "right", "titleFontSize": 26, "titleFontWeight": "normal", "titleAnchor": "middle", "labelFontSize": 26, "values": [2, 4, 6], "gradientLength": 184, "gradientThickness": 27, "direction": "vertical", "padding": 11, "strokeColor": "#333333", "labelOffset": 14, "encode": {"title": {"update": {"angle": {"value": 270}, "baseline": {"value": "top"}}}}}}
     }},
    {"data": {"name": "ts"}, "transform": [{"filter": "datum.c == '10'"}], "mark": {"type": "area", "color": "#BEBEBE"},
     "encoding": {"y": {"field": "lo", "type": "quantitative", "scale": {"domain": [-0.4565, 1.052], "nice": false, "zero": false}}, "y2": {"field": "hi"}, "detail": {"field": "g"}}},
    {"data": {"name": "base"}, "transform": [{"filter": "datum.c == '10'"}], "mark": {"type": "line", "strokeWidth": 11.5, "strokeCap": "round", "strokeJoin": "round"},
     "encoding": {"y": {"field": "y", "type": "quantitative", "scale": {"domain": [-0.4565, 1.052], "nice": false, "zero": false}}, "stroke": {"field": "g", "type": "nominal", "scale": {"domain": ["a", "b", "c", "d"], "range": ["#CC99CC", "#CD6F54", "#99CCFF", "#00BFC4"]}, "legend": null}}},
    {"data": {"name": "ts"}, "transform": [{"filter": "datum.c == '10'"}], "mark": {"type": "line", "strokeWidth": 11.5, "strokeCap": "round", "strokeJoin": "round"},
     "encoding": {"y": {"field": "y", "type": "quantitative", "scale": {"domain": [-0.4565, 1.052], "nice": false, "zero": false}}, "stroke": {"field": "g", "type": "nominal", "scale": {"domain": ["a", "b", "c", "d"], "range": ["#CC99CC", "#CD6F54", "#99CCFF", "#00BFC4"]}, "legend": null}}},
    {"data": {"name": "ts"}, "transform": [{"filter": "datum.c == '10'"}], "mark": {"type": "point", "filled": true, "size": 0},
     "encoding": {"y": {"field": "y", "type": "quantitative", "scale": {"domain": [-0.4565, 1.052], "nice": false, "zero": false}},
      "color": {"field": "g", "type": "nominal", "scale": {"domain": ["c", "d", "a", "b"], "range": ["#99CCFF", "#00BFC4", "#CC99CC", "#CD6F54"]},
       "legend": {"orient": "none", "legendX": 1091, "legendY": -4, "title": null, "labelFontSize": 26, "labelLimit": 400, "symbolType": "circle", "symbolSize": 95, "symbolOpacity": 1, "labelOffset": 12, "rowPadding": 9, "padding": 11, "strokeColor": "#333333",
        "labelExpr": "datum.label == 'c' ? 'WT b₂−DHFR' : datum.label == 'd' ? 'WT cyt' : datum.label == 'a' ? 'Δhac1 b₂−DHFR' : 'Δhac1 cyt'"}}}},
    {"data": {"name": "ann"}, "transform": [{"filter": "datum.c == '10'"}], "mark": {"type": "rule", "strokeWidth": 2.2, "color": "#000000"},
     "encoding": {"y": {"datum": 0.528, "type": "quantitative", "scale": {"domain": [-0.4565, 1.052], "nice": false, "zero": false}}, "y2": {"datum": 0.43}}},
    {"data": {"name": "ann"}, "transform": [{"filter": "datum.c == '10'"}], "mark": {"type": "point", "shape": "M-1,-1L1,-1L0,1Z", "filled": true, "color": "#000000", "size": 256, "opacity": 1},
     "encoding": {"y": {"datum": 0.413, "type": "quantitative", "scale": {"domain": [-0.4565, 1.052], "nice": false, "zero": false}}}},
    {"data": {"name": "ann"}, "transform": [{"filter": "datum.c == '10'"}], "mark": {"type": "text", "text": "H₂O₂", "fontSize": 25, "align": "center", "baseline": "alphabetic", "dx": 3, "color": "#000000"},
     "encoding": {"y": {"datum": 0.568, "type": "quantitative", "scale": {"domain": [-0.4565, 1.052], "nice": false, "zero": false}}}}
   ]}
 ]},
 {"bounds": "flush", "spacing": 0, "vconcat": [
  {"width": 341, "height": 51, "view": {"fill": "#D9D9D9", "stroke": "#333333", "strokeWidth": 2.5}, "data": {"name": "strip"}, "transform": [{"filter": "datum.c == '50'"}], "mark": {"type": "text", "fontSize": 25, "color": "#1a1a1a"}, "encoding": {"text": {"field": "label"}}},
  {"width": 341, "height": 463, "view": {"stroke": "#333333", "strokeWidth": 2.5},
   "encoding": {"x": {"field": "t", "type": "quantitative", "scale": {"domain": [-3.6, 76.9], "nice": false, "zero": false}, "axis": {"values": [0, 20, 40, 60], "title": "Time (min)", "titleX": 135, "titlePadding": 12}}},
   "layer": [
    {"data": {"name": "hm"}, "transform": [{"filter": "datum.c == '50'"}, {"fold": ["p1", "p2", "p3", "p4"], "as": ["key", "pv"]}, {"lookup": "key", "from": {"data": {"name": "rows"}, "key": "key", "fields": ["ylo", "yhi"]}}],
     "mark": {"type": "bar", "orient": "vertical", "size": 4.7},
     "encoding": {
      "y": {"field": "ylo", "type": "quantitative", "scale": {"domain": [-0.4565, 1.052], "nice": false, "zero": false},
        "axis": {"values": [0, 0.25, 0.5, 0.75, 1], "labels": false, "ticks": false, "title": null}},
      "y2": {"field": "yhi"},
      "fill": {"field": "pv", "type": "quantitative", "scale": {"scheme": "viridis", "domain": [0, 6.13]},
        "legend": {"orient": "none", "legendX": 1091, "legendY": 170, "title": "−log₁₀(p value)", "titleOrient": "right", "titleFontSize": 26, "titleFontWeight": "normal", "titleAnchor": "middle", "labelFontSize": 26, "values": [2, 4, 6], "gradientLength": 184, "gradientThickness": 27, "direction": "vertical", "padding": 11, "strokeColor": "#333333", "labelOffset": 14, "encode": {"title": {"update": {"angle": {"value": 270}, "baseline": {"value": "top"}}}}}}
     }},
    {"data": {"name": "ts"}, "transform": [{"filter": "datum.c == '50'"}], "mark": {"type": "area", "color": "#BEBEBE"},
     "encoding": {"y": {"field": "lo", "type": "quantitative", "scale": {"domain": [-0.4565, 1.052], "nice": false, "zero": false}}, "y2": {"field": "hi"}, "detail": {"field": "g"}}},
    {"data": {"name": "base"}, "transform": [{"filter": "datum.c == '50'"}], "mark": {"type": "line", "strokeWidth": 11.5, "strokeCap": "round", "strokeJoin": "round"},
     "encoding": {"y": {"field": "y", "type": "quantitative", "scale": {"domain": [-0.4565, 1.052], "nice": false, "zero": false}}, "stroke": {"field": "g", "type": "nominal", "scale": {"domain": ["a", "b", "c", "d"], "range": ["#CC99CC", "#CD6F54", "#99CCFF", "#00BFC4"]}, "legend": null}}},
    {"data": {"name": "ts"}, "transform": [{"filter": "datum.c == '50'"}], "mark": {"type": "line", "strokeWidth": 11.5, "strokeCap": "round", "strokeJoin": "round"},
     "encoding": {"y": {"field": "y", "type": "quantitative", "scale": {"domain": [-0.4565, 1.052], "nice": false, "zero": false}}, "stroke": {"field": "g", "type": "nominal", "scale": {"domain": ["a", "b", "c", "d"], "range": ["#CC99CC", "#CD6F54", "#99CCFF", "#00BFC4"]}, "legend": null}}},
    {"data": {"name": "ts"}, "transform": [{"filter": "datum.c == '50'"}], "mark": {"type": "point", "filled": true, "size": 0},
     "encoding": {"y": {"field": "y", "type": "quantitative", "scale": {"domain": [-0.4565, 1.052], "nice": false, "zero": false}},
      "color": {"field": "g", "type": "nominal", "scale": {"domain": ["c", "d", "a", "b"], "range": ["#99CCFF", "#00BFC4", "#CC99CC", "#CD6F54"]},
       "legend": {"orient": "none", "legendX": 1091, "legendY": -4, "title": null, "labelFontSize": 26, "labelLimit": 400, "symbolType": "circle", "symbolSize": 95, "symbolOpacity": 1, "labelOffset": 12, "rowPadding": 9, "padding": 11, "strokeColor": "#333333",
        "labelExpr": "datum.label == 'c' ? 'WT b₂−DHFR' : datum.label == 'd' ? 'WT cyt' : datum.label == 'a' ? 'Δhac1 b₂−DHFR' : 'Δhac1 cyt'"}}}},
    {"data": {"name": "ann"}, "transform": [{"filter": "datum.c == '50'"}], "mark": {"type": "rule", "strokeWidth": 2.2, "color": "#000000"},
     "encoding": {"y": {"datum": 0.528, "type": "quantitative", "scale": {"domain": [-0.4565, 1.052], "nice": false, "zero": false}}, "y2": {"datum": 0.43}}},
    {"data": {"name": "ann"}, "transform": [{"filter": "datum.c == '50'"}], "mark": {"type": "point", "shape": "M-1,-1L1,-1L0,1Z", "filled": true, "color": "#000000", "size": 256, "opacity": 1},
     "encoding": {"y": {"datum": 0.413, "type": "quantitative", "scale": {"domain": [-0.4565, 1.052], "nice": false, "zero": false}}}},
    {"data": {"name": "ann"}, "transform": [{"filter": "datum.c == '50'"}], "mark": {"type": "text", "text": "H₂O₂", "fontSize": 25, "align": "center", "baseline": "alphabetic", "dx": 3, "color": "#000000"},
     "encoding": {"y": {"datum": 0.568, "type": "quantitative", "scale": {"domain": [-0.4565, 1.052], "nice": false, "zero": false}}}}
   ]}
 ]},
 {"bounds": "flush", "spacing": 0, "vconcat": [
  {"width": 341, "height": 51, "view": {"fill": "#D9D9D9", "stroke": "#333333", "strokeWidth": 2.5}, "data": {"name": "strip"}, "transform": [{"filter": "datum.c == '100'"}], "mark": {"type": "text", "fontSize": 25, "color": "#1a1a1a"}, "encoding": {"text": {"field": "label"}}},
  {"width": 341, "height": 463, "view": {"stroke": "#333333", "strokeWidth": 2.5},
   "encoding": {"x": {"field": "t", "type": "quantitative", "scale": {"domain": [-3.6, 76.9], "nice": false, "zero": false}, "axis": {"values": [0, 20, 40, 60], "title": null}}},
   "layer": [
    {"data": {"name": "hm"}, "transform": [{"filter": "datum.c == '100'"}, {"fold": ["p1", "p2", "p3", "p4"], "as": ["key", "pv"]}, {"lookup": "key", "from": {"data": {"name": "rows"}, "key": "key", "fields": ["ylo", "yhi"]}}],
     "mark": {"type": "bar", "orient": "vertical", "size": 4.7},
     "encoding": {
      "y": {"field": "ylo", "type": "quantitative", "scale": {"domain": [-0.4565, 1.052], "nice": false, "zero": false},
        "axis": {"orient": "right", "values": [0, 0.25, 0.5, 0.75, 1, -0.11075, -0.20825, -0.30575, -0.40325], "labelExpr": "datum.value >= 0 ? '' : datum.value > -0.16 ? 'WT b₂-DHFR vs. WT cyt DHFR' : datum.value > -0.26 ? 'Δhac1 cyt DHFR vs. WT cyt DHFR' : datum.value > -0.35 ? 'Δhac1 b₂-DHFR vs. WT b₂-DHFR' : 'Δhac1 b₂-DHFR vs. Δhac1 cyt DHFR'", "ticks": false, "tickSize": 0, "labelFontSize": 21, "labelPadding": 14, "labelLimit": 500, "labelColor": "#000000", "title": null,
          "gridColor": {"condition": {"test": "datum.value < -0.05", "value": "transparent"}, "value": "#EBEBEB"}}},
      "y2": {"field": "yhi"},
      "fill": {"field": "pv", "type": "quantitative", "scale": {"scheme": "viridis", "domain": [0, 6.13]},
        "legend": {"orient": "none", "legendX": 1091, "legendY": 170, "title": "−log₁₀(p value)", "titleOrient": "right", "titleFontSize": 26, "titleFontWeight": "normal", "titleAnchor": "middle", "labelFontSize": 26, "values": [2, 4, 6], "gradientLength": 184, "gradientThickness": 27, "direction": "vertical", "padding": 11, "strokeColor": "#333333", "labelOffset": 14, "encode": {"title": {"update": {"angle": {"value": 270}, "baseline": {"value": "top"}}}}}}
     }},
    {"data": {"name": "ts"}, "transform": [{"filter": "datum.c == '100'"}], "mark": {"type": "area", "color": "#BEBEBE"},
     "encoding": {"y": {"field": "lo", "type": "quantitative", "scale": {"domain": [-0.4565, 1.052], "nice": false, "zero": false}}, "y2": {"field": "hi"}, "detail": {"field": "g"}}},
    {"data": {"name": "base"}, "transform": [{"filter": "datum.c == '100'"}], "mark": {"type": "line", "strokeWidth": 11.5, "strokeCap": "round", "strokeJoin": "round"},
     "encoding": {"y": {"field": "y", "type": "quantitative", "scale": {"domain": [-0.4565, 1.052], "nice": false, "zero": false}}, "stroke": {"field": "g", "type": "nominal", "scale": {"domain": ["a", "b", "c", "d"], "range": ["#CC99CC", "#CD6F54", "#99CCFF", "#00BFC4"]}, "legend": null}}},
    {"data": {"name": "ts"}, "transform": [{"filter": "datum.c == '100'"}], "mark": {"type": "line", "strokeWidth": 11.5, "strokeCap": "round", "strokeJoin": "round"},
     "encoding": {"y": {"field": "y", "type": "quantitative", "scale": {"domain": [-0.4565, 1.052], "nice": false, "zero": false}}, "stroke": {"field": "g", "type": "nominal", "scale": {"domain": ["a", "b", "c", "d"], "range": ["#CC99CC", "#CD6F54", "#99CCFF", "#00BFC4"]}, "legend": null}}},
    {"data": {"name": "ts"}, "transform": [{"filter": "datum.c == '100'"}], "mark": {"type": "point", "filled": true, "size": 0},
     "encoding": {"y": {"field": "y", "type": "quantitative", "scale": {"domain": [-0.4565, 1.052], "nice": false, "zero": false}},
      "color": {"field": "g", "type": "nominal", "scale": {"domain": ["c", "d", "a", "b"], "range": ["#99CCFF", "#00BFC4", "#CC99CC", "#CD6F54"]},
       "legend": {"orient": "none", "legendX": 1091, "legendY": -4, "title": null, "labelFontSize": 26, "labelLimit": 400, "symbolType": "circle", "symbolSize": 95, "symbolOpacity": 1, "labelOffset": 12, "rowPadding": 9, "padding": 11, "strokeColor": "#333333",
        "labelExpr": "datum.label == 'c' ? 'WT b₂−DHFR' : datum.label == 'd' ? 'WT cyt' : datum.label == 'a' ? 'Δhac1 b₂−DHFR' : 'Δhac1 cyt'"}}}},
    {"data": {"name": "ann"}, "transform": [{"filter": "datum.c == '100'"}], "mark": {"type": "rule", "strokeWidth": 2.2, "color": "#000000"},
     "encoding": {"y": {"datum": 0.528, "type": "quantitative", "scale": {"domain": [-0.4565, 1.052], "nice": false, "zero": false}}, "y2": {"datum": 0.43}}},
    {"data": {"name": "ann"}, "transform": [{"filter": "datum.c == '100'"}], "mark": {"type": "point", "shape": "M-1,-1L1,-1L0,1Z", "filled": true, "color": "#000000", "size": 256, "opacity": 1},
     "encoding": {"y": {"datum": 0.413, "type": "quantitative", "scale": {"domain": [-0.4565, 1.052], "nice": false, "zero": false}}}},
    {"data": {"name": "ann"}, "transform": [{"filter": "datum.c == '100'"}], "mark": {"type": "text", "text": "H₂O₂", "fontSize": 25, "align": "center", "baseline": "alphabetic", "dx": 3, "color": "#000000"},
     "encoding": {"y": {"datum": 0.568, "type": "quantitative", "scale": {"domain": [-0.4565, 1.052], "nice": false, "zero": false}}}}
   ]}
 ]}
 ]
}]
}
